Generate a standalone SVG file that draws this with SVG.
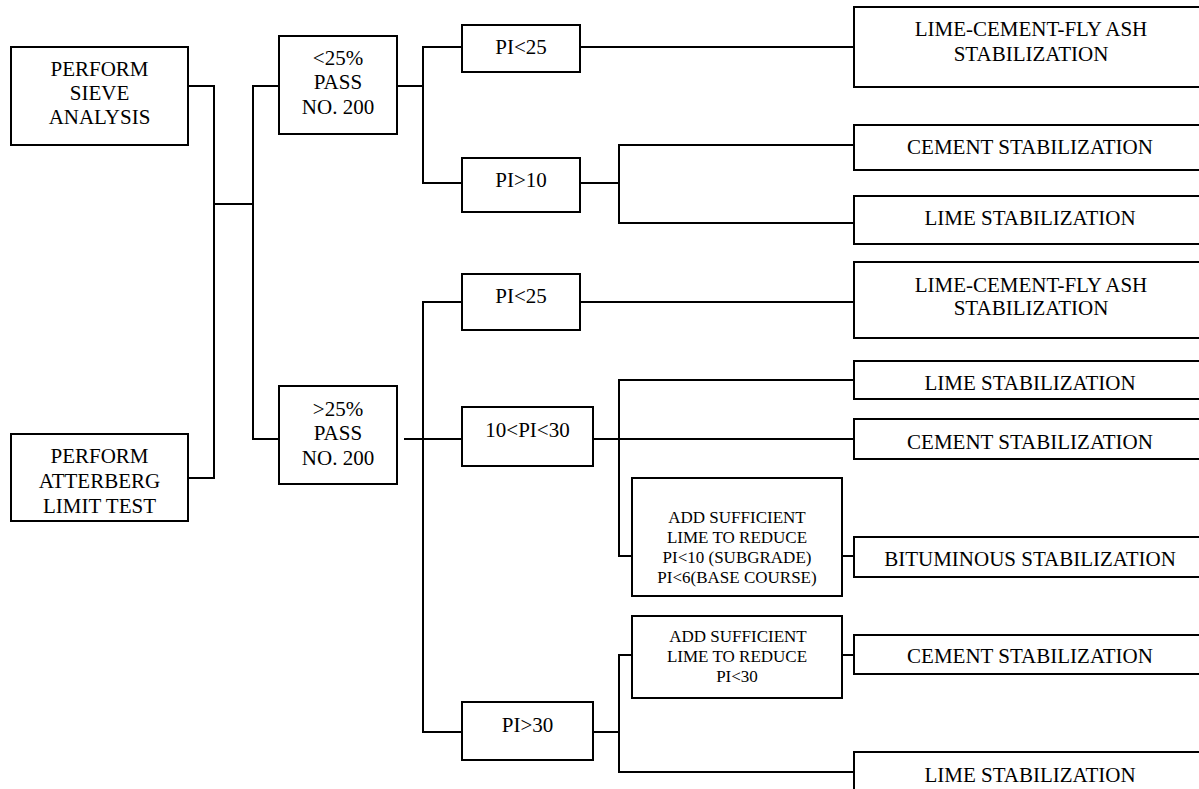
<svg xmlns="http://www.w3.org/2000/svg" width="1199" height="789" viewBox="0 0 1199 789">
<style>
rect{fill:#fff;stroke:#000;stroke-width:2}
path{fill:none;stroke:#000;stroke-width:2}
text{font-family:"Liberation Serif","Times New Roman",serif;font-size:21px;text-anchor:middle;fill:#000}
.s{font-size:17px}
</style>
<rect x="0" y="0" width="1199" height="789" style="stroke:none"/>
<g id="connectors">
<path d="M188,86 H214 V478 H188"/>
<path d="M214,204 H253"/>
<path d="M279,86 H253 V439 H279"/>
<path d="M397,86 H423"/>
<path d="M462,47 H423 V183 H462"/>
<path d="M580,47 H854"/>
<path d="M580,183 H619"/>
<path d="M854,145 H619 V223 H854"/>
<path d="M404,439 H462"/>
<path d="M462,302 H423 V732 H462"/>
<path d="M580,302 H854"/>
<path d="M593,439 H854"/>
<path d="M854,380 H619 V556 H632"/>
<path d="M842,556 H854"/>
<path d="M593,732 H619"/>
<path d="M632,655 H619 V772 H854"/>
<path d="M842,655 H854"/>
</g>
<g id="sieve"><rect x="11" y="47" width="177" height="98"/><text x="99.5" y="76">PERFORM</text><text x="99.5" y="100">SIEVE</text><text x="99.5" y="124">ANALYSIS</text></g>
<g id="atterberg"><rect x="11" y="434" width="177" height="87"/><text x="99.5" y="463">PERFORM</text><text x="99.5" y="488">ATTERBERG</text><text x="99.5" y="513">LIMIT TEST</text></g>
<g id="lt25"><rect x="279" y="36" width="118" height="98"/><text x="338" y="65">&lt;25%</text><text x="338" y="89">PASS</text><text x="338" y="114">NO. 200</text></g>
<g id="gt25"><rect x="279" y="386" width="118" height="98"/><text x="338" y="416">&gt;25%</text><text x="338" y="440">PASS</text><text x="338" y="465">NO. 200</text></g>
<g id="pi25a"><rect x="462" y="25" width="118" height="47"/><text x="521" y="54">PI&lt;25</text></g>
<g id="pi10"><rect x="462" y="158" width="118" height="54"/><text x="521" y="187">PI&gt;10</text></g>
<g id="pi25b"><rect x="462" y="274" width="118" height="56"/><text x="521" y="303">PI&lt;25</text></g>
<g id="pi1030"><rect x="462" y="407" width="131" height="59"/><text x="527.5" y="437">10&lt;PI&lt;30</text></g>
<g id="pi30"><rect x="462" y="702" width="131" height="58"/><text x="527.5" y="732">PI&gt;30</text></g>
<g id="add1"><rect x="632" y="478" width="210" height="118"/><text class="s" x="737" y="523">ADD SUFFICIENT</text><text class="s" x="737" y="543">LIME TO REDUCE</text><text class="s" x="737" y="563">PI&lt;10 (SUBGRADE)</text><text class="s" x="737" y="583">PI&lt;6(BASE COURSE)</text></g>
<g id="add2"><rect x="632" y="616" width="210" height="82"/><text class="s" x="738" y="642">ADD SUFFICIENT</text><text class="s" x="737" y="662">LIME TO REDUCE</text><text class="s" x="737" y="682">PI&lt;30</text></g>
<g id="r1"><rect x="854" y="7" width="355" height="80"/><text x="1031" y="36">LIME-CEMENT-FLY ASH</text><text x="1031" y="61">STABILIZATION</text></g>
<g id="r2"><rect x="854" y="125" width="355" height="45"/><text x="1030" y="154">CEMENT STABILIZATION</text></g>
<g id="r3"><rect x="854" y="196" width="355" height="48"/><text x="1030" y="225">LIME STABILIZATION</text></g>
<g id="r4"><rect x="854" y="262" width="355" height="76"/><text x="1031" y="292">LIME-CEMENT-FLY ASH</text><text x="1031" y="315">STABILIZATION</text></g>
<g id="r5"><rect x="854" y="361" width="355" height="38"/><text x="1030" y="390">LIME STABILIZATION</text></g>
<g id="r6"><rect x="854" y="419" width="355" height="40"/><text x="1030" y="449">CEMENT STABILIZATION</text></g>
<g id="r7"><rect x="854" y="537" width="355" height="40"/><text x="1030" y="566">BITUMINOUS STABILIZATION</text></g>
<g id="r8"><rect x="854" y="635" width="355" height="39"/><text x="1030" y="663">CEMENT STABILIZATION</text></g>
<g id="r9"><rect x="854" y="752" width="355" height="50"/><text x="1030" y="782">LIME STABILIZATION</text></g>
</svg>
